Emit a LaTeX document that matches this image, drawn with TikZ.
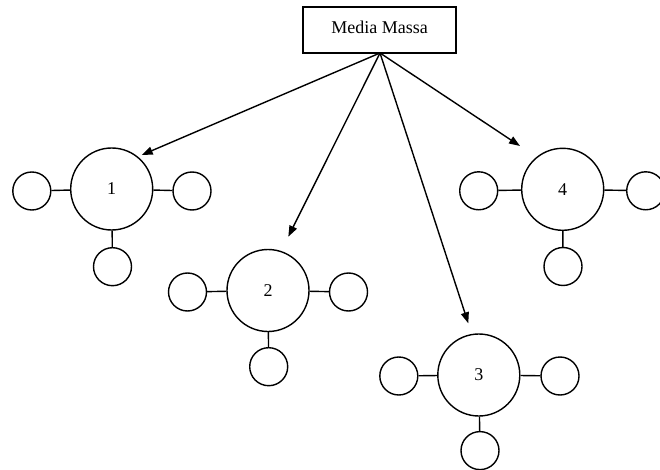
\documentclass[tikz,border=0pt]{standalone}
\usepackage{fontspec}
\setmainfont{Liberation Serif}
\usetikzlibrary{arrows.meta}
\begin{document}
\begin{tikzpicture}[x=1pt,y=-1pt,
  line width=1.4pt,
  big/.style={draw,circle,minimum size=82pt,inner sep=0pt,font=\fontsize{18}{20}\selectfont},
  small/.style={draw,circle,minimum size=38pt,inner sep=0pt},
  box/.style={draw,rectangle,minimum width=153pt,minimum height=46pt,inner sep=0pt,font=\fontsize{18}{20}\selectfont},
  arr/.style={-{Triangle[length=11pt,width=8pt]},line width=1.4pt}]
\path[use as bounding box] (0,0) rectangle (660,470);
\begin{scope}
\clip (0,0) rectangle (660,470);
\node[box] (mm) at (379.5,30) {\raisebox{5pt}{Media Massa}};
\coordinate (apex) at (380,53);
% group 1
\node[big] (c1) at (111.7,189) {1};
\node[small] (c1l) at (31.8,191) {};
\node[small] (c1r) at (192,191) {};
\node[small] (c1b) at (112.5,266.7) {};
% group 2
\node[big] (c2) at (268,290.5) {2};
\node[small] (c2l) at (187.5,292) {};
\node[small] (c2r) at (348.5,292) {};
\node[small] (c2b) at (268.7,366.7) {};
% group 3
\node[big] (c3) at (478.8,375) {3};
\node[small] (c3l) at (398.8,376) {};
\node[small] (c3r) at (560,376) {};
\node[small] (c3b) at (480,450.6) {};
% group 4
\node[big] (c4) at (562.7,189.3) {4};
\node[small] (c4l) at (478.7,190.8) {};
\node[small] (c4r) at (645.7,190.8) {};
\node[small] (c4b) at (563,266.5) {};
% stubs
\foreach \g in {1,2,3,4}{
  \draw (c\g) -- (c\g l);
  \draw (c\g) -- (c\g r);
  \draw (c\g) -- (c\g b);
}
% arrow tips
\coordinate (t1) at (141.7,155);
\coordinate (t2) at (288.3,236.7);
\coordinate (t3) at (468.3,323.3);
\coordinate (t4) at (520,146);
\foreach \t in {t1,t2,t3,t4}{
  \draw[arr] (apex) -- (\t);
}
\end{scope}
\end{tikzpicture}
\end{document}
